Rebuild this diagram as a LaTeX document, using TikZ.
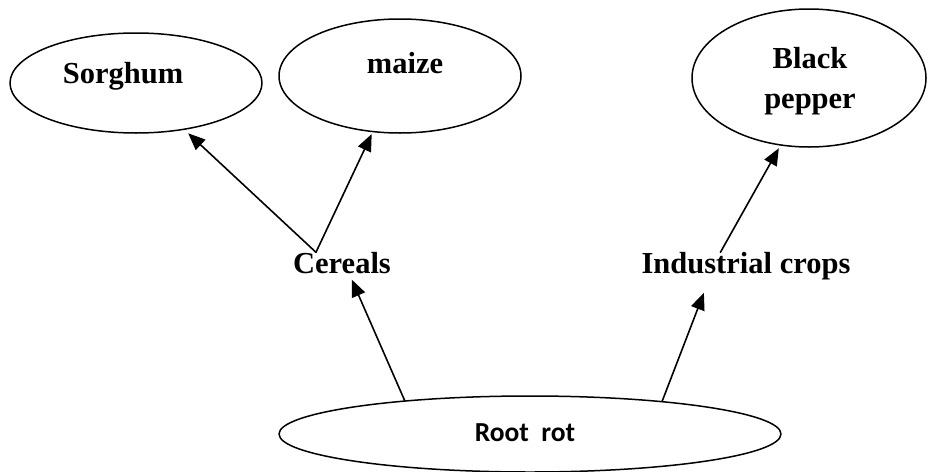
\documentclass[tikz,border=0pt]{standalone}
\usepackage{fontspec}
\setmainfont{Liberation Serif}
\newfontfamily\calibri{Carlito}
\usetikzlibrary{arrows.meta,calc,shapes.geometric}
\tikzset{
	oval/.style={draw,ellipse,line width=1.5pt,inner sep=0pt},
	crop/.style={font=\fontsize{30.5}{40}\selectfont\bfseries,inner sep=0pt,text height=20.5pt,text depth=0pt},
	arrow/.style={->,line width=1.6pt},
}
\begin{document}
\begin{tikzpicture}[x=1pt,y=-1pt,>={Triangle[length=17pt,width=14pt]},line join=round,line cap=round]
	\useasboundingbox (0,0) rectangle (928,471);
	% ovals
	\node[oval,minimum width=252pt,minimum height=100pt] (sorghum) at (136,83) {};
	\node[oval,minimum width=242pt,minimum height=114pt] (maize) at (400,76) {};
	\node[oval,minimum width=234pt,minimum height=138pt] (pepper) at (809,78) {};
	\node[oval,minimum width=502pt,minimum height=76pt] (root) at (530,434) {};
	% texts
	\node[crop,anchor=base] (sorghumtxt) at ($(sorghum.center)+(-13,0)$) {Sorghum};
	\node[crop,anchor=base] (maizetxt) at ($(maize.center)+(5,-3)$) {maize};
	\node[font=\fontsize{30.5}{40}\selectfont\bfseries,align=center,inner sep=0pt] (peppertxt) at ($(pepper.center)+(1,3)$) {Black\\pepper};
	\node[font=\calibri\bfseries\fontsize{27.5}{32}\selectfont,anchor=base,inner sep=0pt] (roottxt) at ($(root.center)+(-5,7)$) {Root\ \ rot};
	\node[crop,anchor=base] (cereals) at (342,273) {Cereals};
	\node[crop,anchor=base] (industrial) at (746,273) {Industrial crops};
	% arrows
	\draw[arrow,shorten >=5pt] ($(cereals.north west)+(23,0)$) -- (sorghum.-44.4);
	\draw[arrow,shorten >=2pt] ($(cereals.north west)+(23,0)$) -- (maize.-116);
	\draw[arrow,shorten >=3pt] ($(industrial.north west)+(79,0)$) -- (pepper.-113.5);
	\draw[arrow,shorten >=7pt] (root.165.5) -- ($(cereals.south west)+(56,0)$);
	\draw[arrow,shorten >=21pt] (root.14.5) -- ($(industrial.south west)+(70,0)$);
\end{tikzpicture}
\end{document}
